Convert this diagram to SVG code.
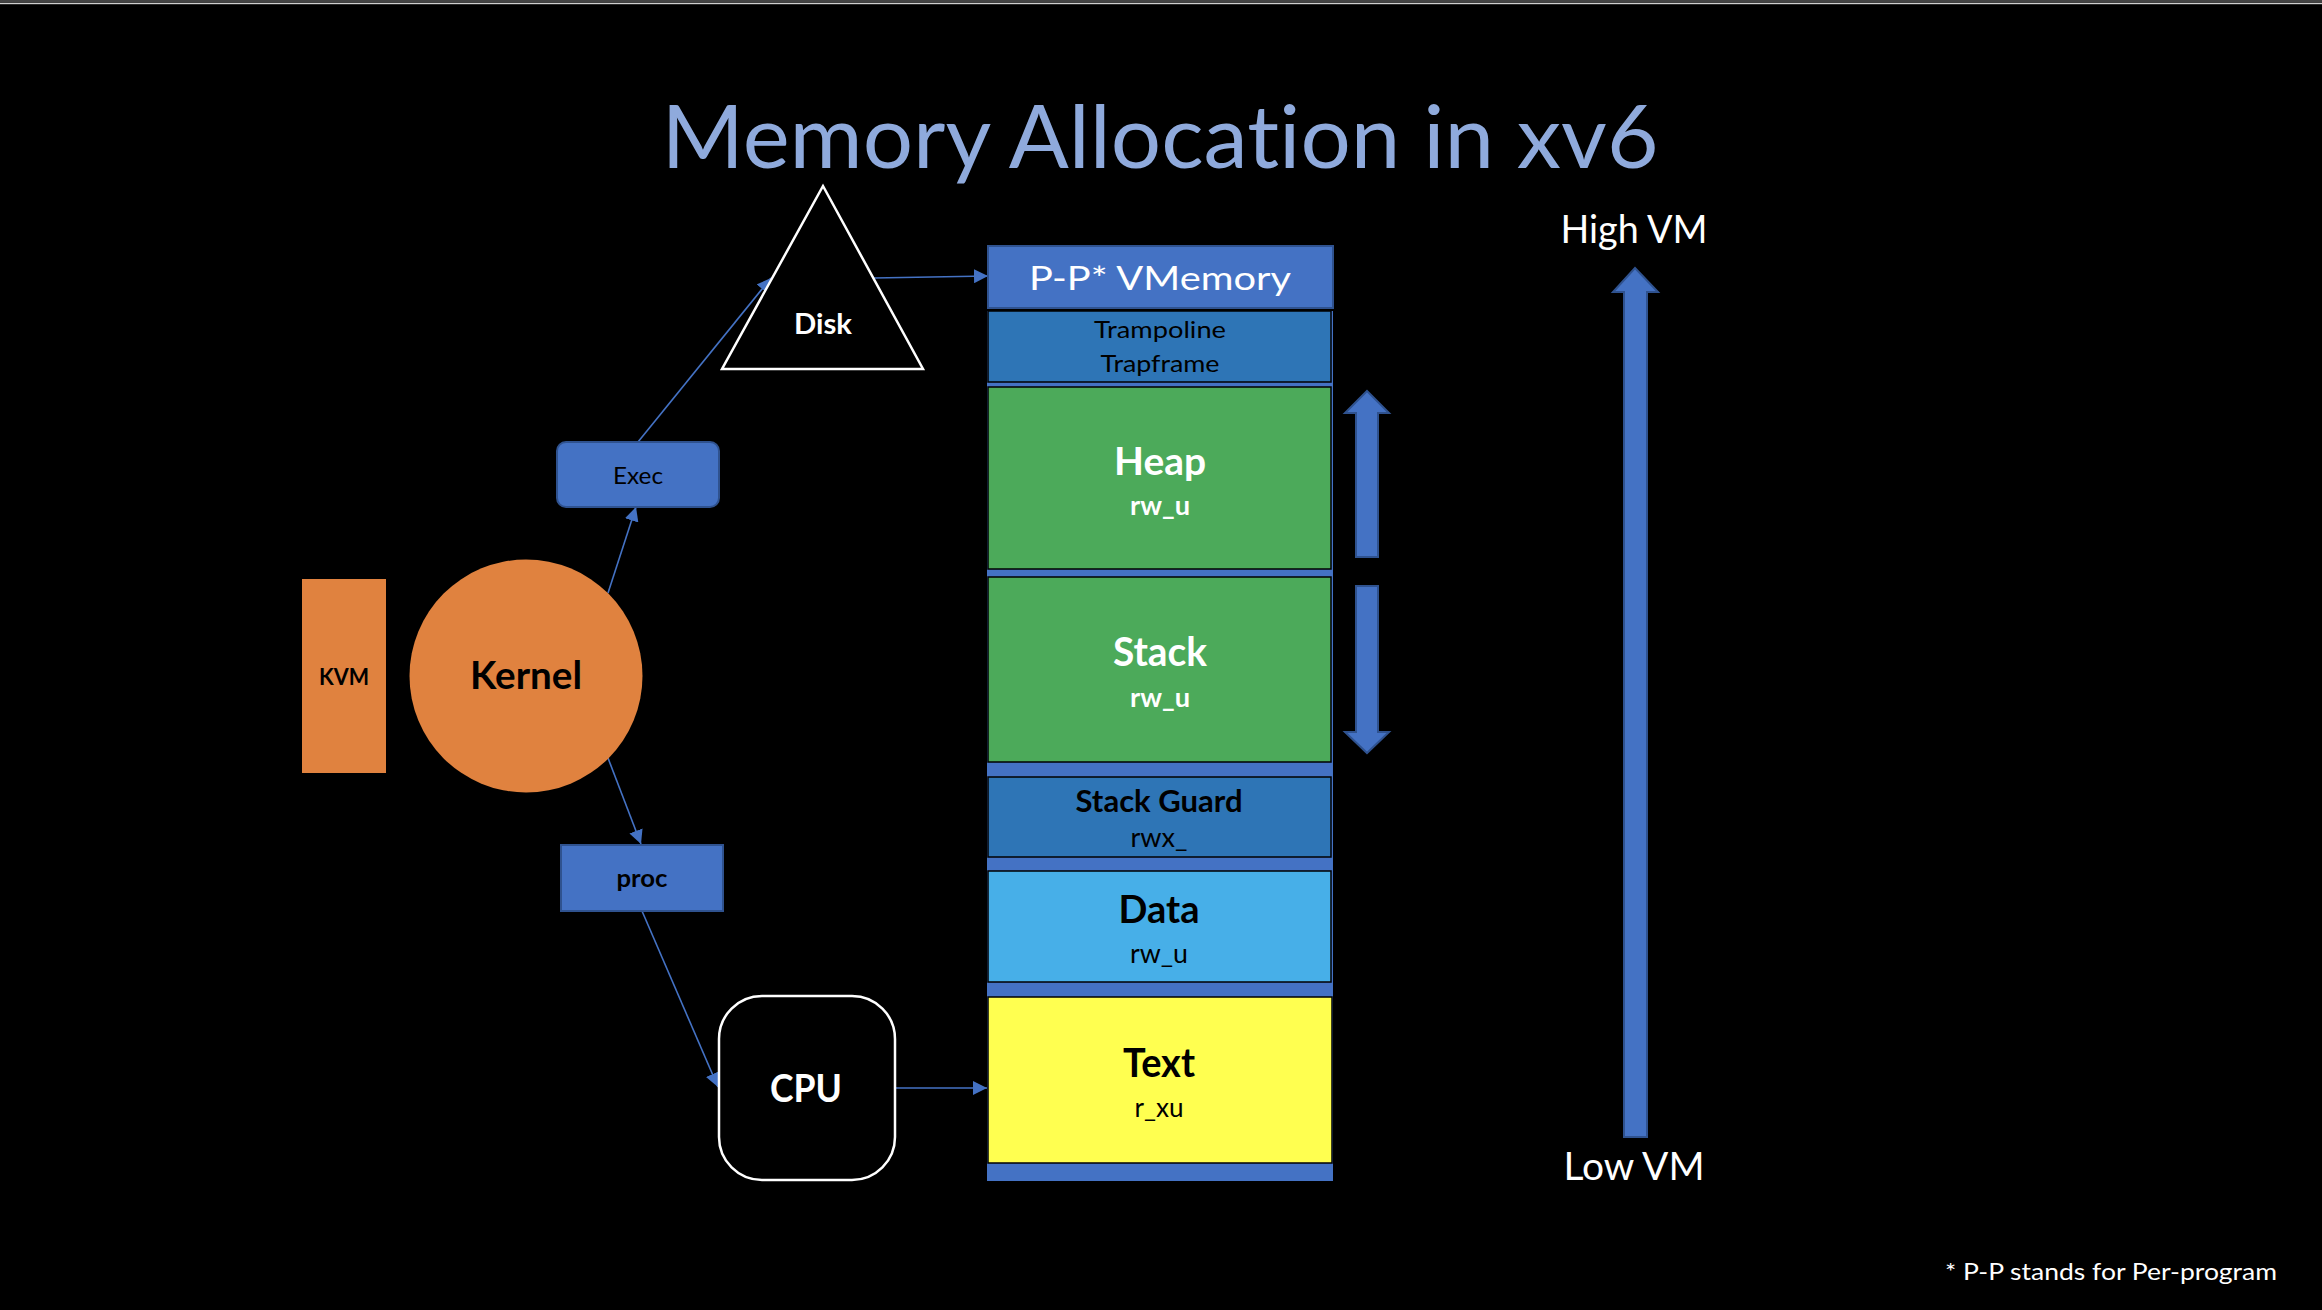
<svg xmlns="http://www.w3.org/2000/svg" width="2322" height="1310" viewBox="0 0 2322 1310">
<defs>
<marker id="ah" markerUnits="userSpaceOnUse" markerWidth="14" markerHeight="14" refX="14" refY="7" orient="auto">
<path d="M0,0 L14,7 L0,14 z" fill="#4472C4"/>
</marker>
<style>
text{font-family:Lato,"Open Sans","Liberation Sans",sans-serif;text-anchor:middle;font-variant-ligatures:none}
.b{font-weight:bold}
.w{fill:#fff}
.k{fill:#000}
.seg{stroke:#000;stroke-width:1.5}
.blue{fill:#4472C4;stroke:#2F528F;stroke-width:2}
.dblue{fill:#2E75B6}
.green{fill:#4CAA5A}
.conn{stroke:#4472C4;stroke-width:1.6;fill:none;marker-end:url(#ah)}
.orange{fill:#E0823F}
</style>
</defs>
<rect x="0" y="0" width="2322" height="1310" fill="#000"/>
<rect x="0" y="0" width="2322" height="2" fill="#444"/>
<rect x="0" y="2.7" width="2322" height="1.5" fill="#cfcfcf"/>

<text x="1160" y="168" font-size="87" font-weight="normal" fill="#8FAADC" textLength="997" lengthAdjust="spacingAndGlyphs">Memory Allocation in xv6</text>

<g id="connectors">
<line class="conn" x1="608" y1="593" x2="636" y2="507"/>
<line class="conn" x1="638" y1="442" x2="771" y2="278"/>
<line class="conn" x1="874" y1="278" x2="988" y2="276"/>
<line class="conn" x1="608" y1="758" x2="641" y2="844"/>
<line class="conn" x1="642" y1="911" x2="718" y2="1087"/>
<line class="conn" x1="895" y1="1088" x2="987" y2="1088"/>
</g>

<g id="disk">
<polygon points="823,186 923,369 722,369" fill="#000" stroke="#fff" stroke-width="2.5"/>
<text class="b w" x="823" y="334" font-size="29" textLength="58" lengthAdjust="spacingAndGlyphs">Disk</text>
</g>

<g id="kvm">
<rect class="orange" x="302" y="579" width="84" height="194"/>
<text class="b k" x="344" y="685" font-size="23" textLength="50" lengthAdjust="spacingAndGlyphs">KVM</text>
</g>

<g id="kernel">
<circle class="orange" cx="526" cy="676" r="116.5"/>
<text class="b k" x="526" y="689" font-size="39" textLength="112" lengthAdjust="spacingAndGlyphs">Kernel</text>
</g>

<g id="exec">
<rect class="blue" x="557" y="442" width="162" height="65" rx="9"/>
<text class="k" x="638" y="484" font-size="24" textLength="50" lengthAdjust="spacingAndGlyphs">Exec</text>
</g>

<g id="proc">
<rect class="blue" x="561" y="845" width="162" height="66"/>
<text class="b k" x="642" y="887" font-size="25" textLength="51" lengthAdjust="spacingAndGlyphs">proc</text>
</g>

<g id="cpu">
<rect x="719" y="996" width="176" height="184" rx="43" fill="#000" stroke="#fff" stroke-width="2.5"/>
<text class="b w" x="806" y="1102" font-size="39" textLength="72" lengthAdjust="spacingAndGlyphs">CPU</text>
</g>

<g id="memory-column">
<rect x="987" y="311" width="346" height="870" fill="#4472C4"/>
</g>

<g id="ppvmemory">
<rect class="blue" x="988" y="246" width="345" height="62"/>
<text class="w" x="1160" y="290" font-size="33" textLength="262" lengthAdjust="spacingAndGlyphs">P-P* VMemory</text>
</g>

<g id="trampoline">
<rect class="dblue seg" x="988" y="311" width="343" height="71"/>
<text class="k" x="1160" y="338" font-size="24" textLength="132" lengthAdjust="spacingAndGlyphs">Trampoline</text>
<text class="k" x="1160" y="372" font-size="24" textLength="119" lengthAdjust="spacingAndGlyphs">Trapframe</text>
</g>

<g id="heap">
<rect class="green seg" x="988" y="387" width="343" height="182"/>
<text class="b w" x="1160" y="475" font-size="39" textLength="92" lengthAdjust="spacingAndGlyphs">Heap</text>
<text class="b w" x="1160" y="515" font-size="26" textLength="60" lengthAdjust="spacingAndGlyphs">rw_u</text>
</g>

<g id="stack">
<rect class="green seg" x="988" y="577" width="343" height="185"/>
<text class="b w" x="1160" y="666" font-size="40" textLength="94" lengthAdjust="spacingAndGlyphs">Stack</text>
<text class="b w" x="1160" y="707" font-size="26" textLength="60" lengthAdjust="spacingAndGlyphs">rw_u</text>
</g>

<g id="stackguard">
<rect class="dblue seg" x="988" y="777" width="343" height="80"/>
<text class="b k" x="1159" y="812" font-size="30" textLength="167" lengthAdjust="spacingAndGlyphs">Stack Guard</text>
<text class="k" x="1159" y="847" font-size="26" textLength="57" lengthAdjust="spacingAndGlyphs">rwx_</text>
</g>

<g id="data">
<rect class="seg" fill="#47AFE8" x="988" y="871" width="343" height="111"/>
<text class="b k" x="1159" y="923" font-size="39" textLength="81" lengthAdjust="spacingAndGlyphs">Data</text>
<text class="k" x="1159" y="963" font-size="26" textLength="58" lengthAdjust="spacingAndGlyphs">rw_u</text>
</g>

<g id="text">
<rect class="seg" fill="#FFFF50" x="988" y="997" width="344" height="166"/>
<text class="b k" x="1159" y="1077" font-size="40" textLength="72" lengthAdjust="spacingAndGlyphs">Text</text>
<text class="k" x="1159" y="1117" font-size="26" textLength="49" lengthAdjust="spacingAndGlyphs">r_xu</text>
</g>

<g id="heap-grow">
<polygon class="blue" stroke-width="1.5" points="1367,391 1389,413 1378,413 1378,557 1356,557 1356,413 1345,413"/>
</g>
<g id="stack-grow">
<polygon class="blue" stroke-width="1.5" points="1356,586 1378,586 1378,732 1389,732 1367,753 1345,732 1356,732"/>
</g>

<g id="vm-axis">
<polygon class="blue" stroke-width="1.5" points="1635,268 1658,292 1647,292 1647,1137 1624,1137 1624,292 1613,292"/>
<text class="w" x="1634" y="243" font-size="39" textLength="147" lengthAdjust="spacingAndGlyphs">High VM</text>
<text class="w" x="1634" y="1180" font-size="38" textLength="141" lengthAdjust="spacingAndGlyphs">Low VM</text>
</g>

<text class="w" x="2111" y="1280" font-size="24" textLength="332" lengthAdjust="spacingAndGlyphs">* P-P stands for Per-program</text>
</svg>
